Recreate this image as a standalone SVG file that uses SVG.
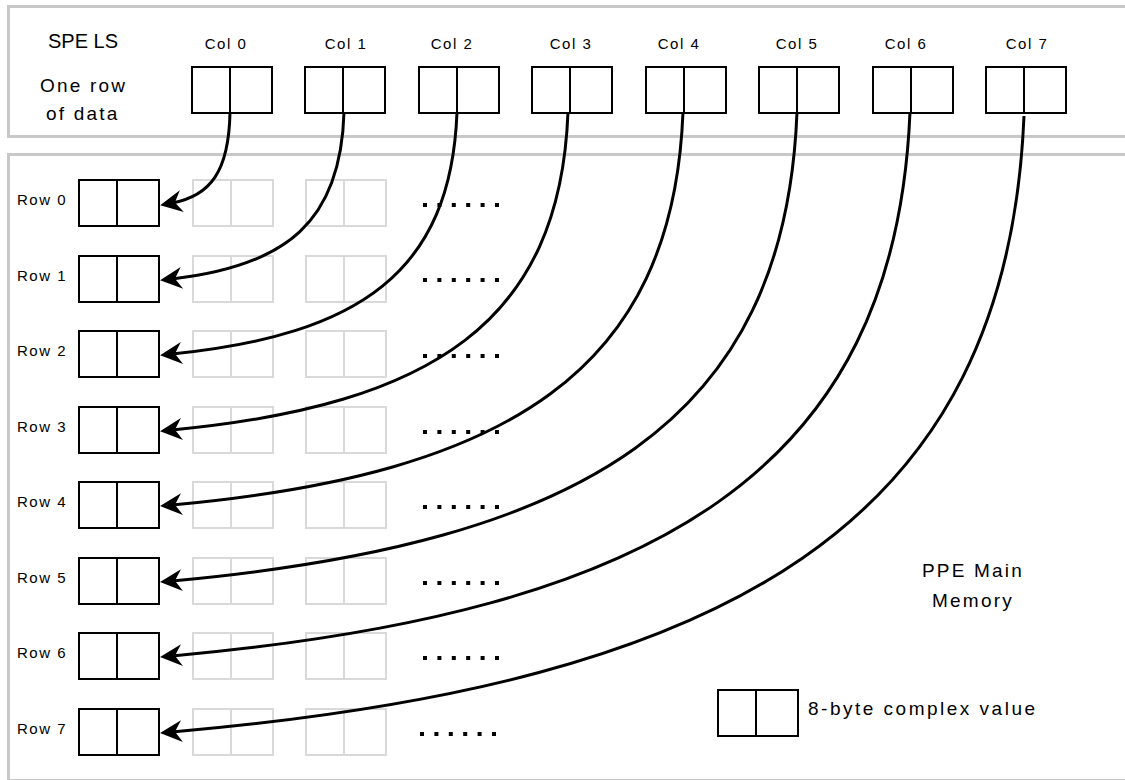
<svg xmlns="http://www.w3.org/2000/svg" width="1125" height="780" viewBox="0 0 1125 780">
<style>
.panel{fill:#fff;stroke:#c8c8c8;stroke-width:3}
.cell{fill:#fff;stroke:#000;stroke-width:2}
.ghost{fill:#fff;stroke:#d9d9d9;stroke-width:2}
.conn{fill:none;stroke:#000;stroke-width:3}
.dots{stroke:#000;stroke-width:4;stroke-dasharray:4 10.4}
text{font-family:"Liberation Sans",Arial,sans-serif;fill:#000}
.sm{font-size:15px;letter-spacing:1.5px}
.lg{font-size:19px;letter-spacing:2.2px}
</style>
<defs>
<marker id="arr" markerUnits="userSpaceOnUse" orient="auto" viewBox="-12 -12 26 24" markerWidth="26" markerHeight="24" refX="0" refY="0">
<path d="M12,0 L-10,-11 L-3,0 L-10,11 Z" fill="#000"/>
</marker>
<g id="cellShape">
<rect class="cell" x="0" y="0" width="80" height="46"/>
<line x1="38" y1="0" x2="38" y2="46" stroke="#000" stroke-width="2"/>
</g>
<g id="ghostShape">
<rect class="ghost" x="0" y="0" width="80" height="46"/>
<line x1="38" y1="0" x2="38" y2="46" stroke="#d9d9d9" stroke-width="2"/>
</g>
</defs>
<rect width="1125" height="780" fill="#fff"/>
<g id="spe-ls">
<rect class="panel" x="8.5" y="6.5" width="1130" height="130"/>
<text x="48" y="48" font-size="20">SPE LS</text>
<text x="40" y="92" class="lg">One row</text>
<text x="46" y="120" class="lg">of data</text>
</g>
<g id="main-memory">
<rect class="panel" x="8.5" y="154.5" width="1130" height="626"/>
<text x="973" y="577" class="lg" text-anchor="middle">PPE Main</text>
<text x="973" y="607" class="lg" text-anchor="middle">Memory</text>
</g>
<g id="cols">
<g id="col0"><text class="sm" x="226" y="49" text-anchor="middle">Col 0</text><use href="#cellShape" x="192" y="67"/></g>
<g id="col1"><text class="sm" x="346" y="49" text-anchor="middle">Col 1</text><use href="#cellShape" x="305" y="67"/></g>
<g id="col2"><text class="sm" x="452" y="49" text-anchor="middle">Col 2</text><use href="#cellShape" x="419" y="67"/></g>
<g id="col3"><text class="sm" x="571" y="49" text-anchor="middle">Col 3</text><use href="#cellShape" x="532" y="67"/></g>
<g id="col4"><text class="sm" x="679" y="49" text-anchor="middle">Col 4</text><use href="#cellShape" x="646" y="67"/></g>
<g id="col5"><text class="sm" x="797" y="49" text-anchor="middle">Col 5</text><use href="#cellShape" x="759" y="67"/></g>
<g id="col6"><text class="sm" x="906" y="49" text-anchor="middle">Col 6</text><use href="#cellShape" x="873" y="67"/></g>
<g id="col7"><text class="sm" x="1027" y="49" text-anchor="middle">Col 7</text><use href="#cellShape" x="986" y="67"/></g>
</g>
<g id="rows">
<g id="row0"><text class="sm" x="17" y="205">Row 0</text><use href="#cellShape" x="79" y="180"/><use href="#ghostShape" x="193" y="180"/><use href="#ghostShape" x="306" y="180"/><line class="dots" x1="423" y1="205" x2="500" y2="205"/></g>
<g id="row1"><text class="sm" x="17" y="281">Row 1</text><use href="#cellShape" x="79" y="256"/><use href="#ghostShape" x="193" y="256"/><use href="#ghostShape" x="306" y="256"/><line class="dots" x1="423" y1="280" x2="500" y2="280"/></g>
<g id="row2"><text class="sm" x="17" y="356">Row 2</text><use href="#cellShape" x="79" y="331"/><use href="#ghostShape" x="193" y="331"/><use href="#ghostShape" x="306" y="331"/><line class="dots" x1="423" y1="356" x2="500" y2="356"/></g>
<g id="row3"><text class="sm" x="17" y="432">Row 3</text><use href="#cellShape" x="79" y="407"/><use href="#ghostShape" x="193" y="407"/><use href="#ghostShape" x="306" y="407"/><line class="dots" x1="423" y1="432" x2="500" y2="432"/></g>
<g id="row4"><text class="sm" x="17" y="507">Row 4</text><use href="#cellShape" x="79" y="482"/><use href="#ghostShape" x="193" y="482"/><use href="#ghostShape" x="306" y="482"/><line class="dots" x1="423" y1="507" x2="500" y2="507"/></g>
<g id="row5"><text class="sm" x="17" y="583">Row 5</text><use href="#cellShape" x="79" y="558"/><use href="#ghostShape" x="193" y="558"/><use href="#ghostShape" x="306" y="558"/><line class="dots" x1="423" y1="583" x2="500" y2="583"/></g>
<g id="row6"><text class="sm" x="17" y="658">Row 6</text><use href="#cellShape" x="79" y="633"/><use href="#ghostShape" x="193" y="633"/><use href="#ghostShape" x="306" y="633"/><line class="dots" x1="423" y1="658" x2="500" y2="658"/></g>
<g id="row7"><text class="sm" x="17" y="734">Row 7</text><use href="#cellShape" x="79" y="709"/><use href="#ghostShape" x="193" y="709"/><use href="#ghostShape" x="306" y="709"/><line class="dots" x1="420" y1="734" x2="497" y2="734"/></g>
</g>
<g id="legend">
<use href="#cellShape" x="718" y="690"/>
<text x="808" y="715" font-size="19" letter-spacing="2.5">8-byte complex value</text>
</g>
<g id="connectors">
<path class="conn" marker-end="url(#arr)" d="M230,112 C229,172 210,196 172,203"/>
<path class="conn" marker-end="url(#arr)" d="M344,112 C341,222 286,266 172,279"/>
<path class="conn" marker-end="url(#arr)" d="M457,112 C451,272 360,335 172,354"/>
<path class="conn" marker-end="url(#arr)" d="M568,112 C560,322 433,405 172,430"/>
<path class="conn" marker-end="url(#arr)" d="M683,112 C673,371 509,474 172,505"/>
<path class="conn" marker-end="url(#arr)" d="M797,112 C785,422 585,543 172,581"/>
<path class="conn" marker-end="url(#arr)" d="M910,112 C895,471 659,612 172,656"/>
<path class="conn" marker-end="url(#arr)" d="M1024,116 C1007,523 734,683 172,732"/>
</g>
</svg>
